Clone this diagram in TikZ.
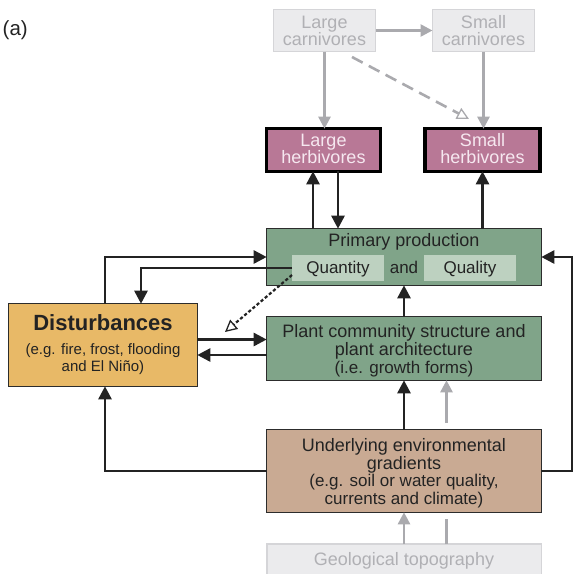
\documentclass[tikz,border=0pt]{standalone}
\usepackage{fontspec}
\setmainfont{Liberation Sans}
\usetikzlibrary{arrows.meta}

\definecolor{ink}{HTML}{232323}
\definecolor{boxline}{HTML}{2C2C2C}
\definecolor{ghostfill}{HTML}{EBEBED}
\definecolor{ghostline}{HTML}{D5D5D8}
\definecolor{ghosttext}{HTML}{B0B0B4}
\definecolor{ghostarrow}{HTML}{AAAAAE}
\definecolor{herbfill}{HTML}{B87896}
\definecolor{herbtext}{HTML}{F6E8F0}
\definecolor{greenfill}{HTML}{80A489}
\definecolor{greenlight}{HTML}{BDD1C0}
\definecolor{distfill}{HTML}{E8B967}
\definecolor{soilfill}{HTML}{C9AA93}

\tikzset{
  box/.style={rectangle, inner sep=0pt, outer sep=0pt, line width=1.4pt, draw=boxline},
  ghostbox/.style={box, draw=ghostline, fill=ghostfill, line width=1.6pt},
  herbbox/.style={box, draw=black, fill=herbfill, line width=3.4pt},
  greenbox/.style={box, fill=greenfill},
  subbox/.style={rectangle, inner sep=0pt, outer sep=0pt, fill=greenlight},
  distbox/.style={box, fill=distfill},
  soilbox/.style={box, fill=soilfill},
  lbl/.style={inner sep=0pt, anchor=base, text=ink, font=\fontsize{18}{18}\selectfont},
  lblsmall/.style={lbl, font=\fontsize{17}{17}\selectfont},
  lbldist/.style={lbl, font=\fontsize{15}{15}\selectfont},
  lbltitle/.style={lbl, font=\fontsize{22}{22}\selectfont\bfseries},
  ghostlbl/.style={lbl, text=ghosttext},
  herblbl/.style={lbl, text=herbtext},
  flow/.style={draw=ink, line width=2.6pt, -{Triangle[length=13pt,width=13pt]}},
  ghostflow/.style={draw=ghostarrow, line width=2.6pt, -{Triangle[length=12pt,width=12pt]}},
  ghostplain/.style={draw=ghostarrow, line width=2.6pt},
  ghostdash/.style={draw=ghostarrow, line width=2.6pt, dash pattern=on 12pt off 7pt,
    -{Triangle[open, fill=white, line width=1.3pt, length=12pt, width=12pt]}},
  dotflow/.style={draw=ink, line width=2.2pt, dash pattern=on 3.2pt off 2.2pt,
    -{Triangle[open, fill=white, line width=1.3pt, length=12pt, width=12pt]}},
}

\begin{document}
\begin{tikzpicture}[x=1pt, y=-1pt]
\useasboundingbox (0,0) rectangle (573,574);

% panel tag
\node[lbl, anchor=base west, font=\fontsize{20.5}{20.5}\selectfont] (tag) at (2.5,35.8) {(a)};

% boxes
\node[ghostbox, minimum width=102pt, minimum height=42pt] (lc) at (324.5,30.5) {};
\node[ghostbox, minimum width=102pt, minimum height=42pt] (sc) at (483.5,30.5) {};
\node[herbbox, minimum width=114pt, minimum height=42.6pt] (lh) at (323.5,150) {};
\node[herbbox, minimum width=115pt, minimum height=42.6pt] (sh) at (482.5,150) {};
\node[greenbox, minimum width=274.6pt, minimum height=56.6pt] (pp) at (404,257) {};
\node[subbox, minimum width=92pt, minimum height=26pt] (qty) at (338,268) {};
\node[subbox, minimum width=92pt, minimum height=26pt] (qual) at (470,268) {};
\node[greenbox, minimum width=274.6pt, minimum height=63.6pt] (plant) at (404,348.5) {};
\node[distbox, minimum width=188.6pt, minimum height=82.6pt] (dist) at (103,345) {};
\node[soilbox, minimum width=274.6pt, minimum height=82.6pt] (soil) at (404,471) {};
\node[ghostbox, minimum width=274.6pt, minimum height=40pt] (geo) at (404,564) {};

% box texts
\node[ghostlbl] (lcA) at (324.5,28.6) {Large};
\node[ghostlbl] (lcB) at (324.5,45.3) {carnivores};
\node[ghostlbl] (scA) at (483.5,28.6) {Small};
\node[ghostlbl] (scB) at (483.5,45.3) {carnivores};
\node[herblbl] (lhA) at (323.5,146.5) {Large};
\node[herblbl] (lhB) at (323.5,163) {herbivores};
\node[herblbl] (shA) at (482.5,146.5) {Small};
\node[herblbl] (shB) at (482.5,163) {herbivores};
\node[lbl] (ppA) at (404,246.5) {Primary production};
\node[lblsmall] (qtyA) at (338,273) {Quantity};
\node[lblsmall] (andA) at (404,273) {and};
\node[lblsmall] (qualA) at (470,273) {Quality};
\node[lbl] (plA) at (404,337) {Plant community structure and};
\node[lbl] (plB) at (404,355.5) {plant architecture};
\node[lblsmall] (plC) at (404,373.5) {(i.e. growth forms)};
\node[lbltitle] (diA) at (103,330.5) {Disturbances};
\node[lbldist] (diB) at (103,354) {(e.g. fire, frost, flooding};
\node[lbldist] (diC) at (103,371.7) {and El Niño)};
\node[lbl] (soA) at (404,451) {Underlying environmental};
\node[lbl] (soB) at (404,469) {gradients};
\node[lblsmall] (soC) at (404,486.7) {(e.g. soil or water quality,};
\node[lblsmall] (soD) at (404,504) {currents and climate)};
\node[ghostlbl] (geA) at (404,565) {Geological topography};

% connector columns, rows and free ends
\coordinate (colA) at (313,0);
\coordinate (colB) at (338,0);
\coordinate (colC) at (105,0);
\coordinate (colD) at (141,0);
\coordinate (colG) at (446.5,0);
\coordinate (colR) at (572,0);
\coordinate (rowE) at (0,339.5);
\coordinate (rowF) at (0,355);
\coordinate (dashfrom) at (352,57);
\coordinate (dashto) at (469,119);
\coordinate (dotto) at (225,332);
\coordinate (ghostabove) at (446.5,423);
\coordinate (ghostbelow) at (446.5,519);

% predators
\draw[ghostflow] (lc.east) -- (sc.west);
\draw[ghostflow] (lc.south) -- (lc.south |- lh.north);
\draw[ghostflow] (sc.south) -- (sc.south |- sh.north);
\draw[ghostdash] (dashfrom) -- (dashto);

% herbivores and production
\draw[flow] (pp.north -| colA) -- (lh.south -| colA);
\draw[flow] (lh.south -| colB) -- (pp.north -| colB);
\draw[flow] (pp.north -| sh.south) -- (sh.south);

% disturbances
\draw[flow] (dist.north -| colC) |- (pp.west);
\draw[flow] (qty.west) -| (dist.north -| colD);
\draw[dotflow] ([yshift=-7pt]qty.west) -- (dotto);
\draw[flow] (dist.east |- rowE) -- (plant.west |- rowE);
\draw[flow] (plant.west |- rowF) -- (dist.east |- rowF);

% vertical chain
\draw[flow] (plant.north) -- (pp.south);
\draw[flow] (soil.north) -- (plant.south);
\draw[ghostflow] (ghostabove) -- (plant.south -| ghostabove);
\draw[flow] (soil.west) -| (dist.south -| colC);
\draw[flow] (soil.east) -| (colR |- pp.east) -- (pp.east);
\draw[ghostflow] (geo.north) -- (soil.south);
\draw[ghostplain] (geo.north -| colG) -- (ghostbelow);
\end{tikzpicture}
\end{document}
